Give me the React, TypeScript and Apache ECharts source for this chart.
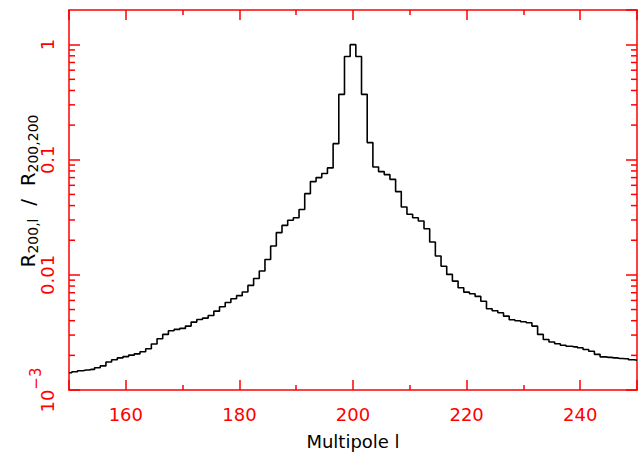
import React, { useEffect, useRef } from "react";
import * as echarts from "echarts";

const multipoles: number[] = [
  150, 151, 152, 153, 154, 155, 156, 157, 158, 159,
  160, 161, 162, 163, 164, 165, 166, 167, 168, 169,
  170, 171, 172, 173, 174, 175, 176, 177, 178, 179,
  180, 181, 182, 183, 184, 185, 186, 187, 188, 189,
  190, 191, 192, 193, 194, 195, 196, 197, 198, 199,
  200, 201, 202, 203, 204, 205, 206, 207, 208, 209,
  210, 211, 212, 213, 214, 215, 216, 217, 218, 219,
  220, 221, 222, 223, 224, 225, 226, 227, 228, 229,
  230, 231, 232, 233, 234, 235, 236, 237, 238, 239,
  240, 241, 242, 243, 244, 245, 246, 247, 248, 249,
  250,
];

const ratio: number[] = [
  0.00141, 0.00144, 0.00147, 0.00149, 0.00151, 0.00156, 0.00162, 0.00175, 0.00183, 0.0019,
  0.00195, 0.00201, 0.00206, 0.00215, 0.00228, 0.00251, 0.00279, 0.00304, 0.00327, 0.00336,
  0.00343, 0.00359, 0.00389, 0.0041, 0.00421, 0.00444, 0.00484, 0.00528, 0.00576, 0.0062,
  0.0066, 0.0071, 0.0081, 0.0093, 0.0108, 0.0136, 0.0178, 0.0233, 0.0269, 0.0298,
  0.0314, 0.037, 0.0508, 0.0646, 0.07, 0.076, 0.085, 0.138, 0.37, 0.79,
  1.0, 0.79, 0.37, 0.141, 0.0866, 0.0789, 0.0743, 0.0676, 0.0529, 0.0389,
  0.0336, 0.0314, 0.0294, 0.0252, 0.0193, 0.0146, 0.0119, 0.0101, 0.00883, 0.00774,
  0.00708, 0.00685, 0.0065, 0.0059, 0.00508, 0.00488, 0.00469, 0.00438, 0.00408, 0.004,
  0.00392, 0.00384, 0.00359, 0.00304, 0.00275, 0.00261, 0.00252, 0.00245, 0.0024, 0.00237,
  0.00233, 0.00225, 0.00217, 0.00204, 0.00194, 0.00192, 0.0019, 0.00188, 0.00187, 0.00183,
  0.00181,
];

const yMinorTicks: number[] = [
  0.002, 0.003, 0.004, 0.005, 0.006, 0.007, 0.008, 0.009,
  0.02, 0.03, 0.04, 0.05, 0.06, 0.07, 0.08, 0.09,
  0.2, 0.3, 0.4, 0.5, 0.6, 0.7, 0.8, 0.9,
];

const yTickLabels: Record<string, string> = {
  "1": "1",
  "0.1": "0.1",
  "0.01": "0.01",
  "0.001": "{b|10}{s|−3}",
};

const X_MIN = 150;
const X_MAX = 250;
const Y_MIN = 0.001;
const Y_MAX = 2;

const RED = "#ff0000";
const FONT = "DejaVu Sans";

export default function App() {
  const ref = useRef<HTMLDivElement>(null);
  useEffect(() => {
    if (!ref.current) return;
    const chart = echarts.init(ref.current, undefined, { renderer: "svg" });
    const axisLine = { show: true, lineStyle: { color: RED, width: 1.5 } };
    const xCommon = {
      type: "value" as const,
      min: X_MIN,
      max: X_MAX,
      splitNumber: 5,
      axisLine,
      axisTick: { show: true, inside: true, length: 10, lineStyle: { color: RED, width: 1.5 } },
      minorTick: { show: true, splitNumber: 2, length: 5, lineStyle: { color: RED, width: 1.5 } },
      splitLine: { show: false },
      minorSplitLine: { show: false },
    };
    const yCommon = {
      type: "log" as const,
      logBase: 10,
      min: Y_MIN,
      max: Y_MAX,
      axisLine,
      axisTick: { show: true, inside: true, length: 11, lineStyle: { color: RED, width: 1.5 } },
      splitLine: { show: false },
    };
    chart.setOption({
      animation: false,
      backgroundColor: "#ffffff",
      grid: { left: 69, right: 1, top: 10, bottom: 70, containLabel: false, outerBoundsMode: "none" },
      xAxis: [
        {
          ...xCommon,
          position: "bottom",
          name: "Multipole l",
          nameLocation: "middle",
          nameGap: 42,
          nameMoveOverlap: false,
          nameTextStyle: { color: "#000", fontFamily: FONT, fontSize: 18 },
          axisLabel: {
            show: true,
            color: RED,
            fontFamily: FONT,
            fontSize: 18,
            margin: 15,
            showMinLabel: false,
            showMaxLabel: false,
          },
        },
        {
          ...xCommon,
          position: "top",
          axisLabel: { show: false },
        },
      ],
      yAxis: [
        {
          ...yCommon,
          position: "left",
          name: "{r0|R}{sub|200,l}{r|  /  R}{sub|200,200}",
          nameLocation: "middle",
          nameRotate: 90,
          nameGap: 29,
          nameMoveOverlap: false,
          nameTextStyle: {
            color: "#000",
            fontFamily: FONT,
            fontSize: 20,
            rich: {
              r0: { fontFamily: FONT, fontSize: 20, color: "#000", padding: [0, 0, 0, 18] },
              r: { fontFamily: FONT, fontSize: 20, color: "#000" },
              sub: { fontFamily: FONT, fontSize: 14, color: "#000", padding: [10, 0, 0, 0] },
            },
          },
          axisLabel: {
            show: true,
            rotate: 90,
            color: RED,
            fontFamily: FONT,
            fontSize: 18,
            margin: 13,
            align: "center",
            verticalAlign: "bottom",
            showMaxLabel: false,
            formatter: (v: number) => {
              const key = String(Number(v.toPrecision(6)));
              return yTickLabels[key] ?? "";
            },
            rich: {
              b: { fontFamily: FONT, fontSize: 18, color: RED, lineHeight: 28, verticalAlign: "bottom" },
              s: { fontFamily: FONT, fontSize: 15, color: RED, lineHeight: 28, verticalAlign: "top" },
            },
          },
        },
        {
          ...yCommon,
          position: "right",
          axisLabel: { show: false },
        },
      ],
      series: [
        {
          type: "line",
          step: "middle",
          xAxisIndex: 0,
          yAxisIndex: 0,
          symbol: "none",
          data: multipoles.map((l, i) => [l, ratio[i]]),
          lineStyle: { color: "#000000", width: 1.6 },
          itemStyle: { color: "#000000" },
          z: 3,
        },
        {
          type: "custom",
          xAxisIndex: 0,
          yAxisIndex: 0,
          silent: true,
          clip: false,
          data: yMinorTicks.map((v) => [X_MIN, v]),
          encode: { x: 0, y: 1 },
          renderItem: (params: any, api: any) => {
            const v = api.value(1);
            const pl = api.coord([X_MIN, v]);
            const pr = api.coord([X_MAX, v]);
            const style = { stroke: RED, lineWidth: 1.5 };
            return {
              type: "group",
              children: [
                { type: "line", shape: { x1: pl[0], y1: pl[1], x2: pl[0] + 6, y2: pl[1] }, style },
                { type: "line", shape: { x1: pr[0] - 6, y1: pr[1], x2: pr[0], y2: pr[1] }, style },
              ],
            };
          },
          z: 4,
        },
      ],
    });
    return () => chart.dispose();
  }, []);
  return (
    <div
      ref={ref}
      style={{ position: "fixed", left: 0, top: 0, width: 638, height: 460, background: "#fff" }}
    />
  );
}
